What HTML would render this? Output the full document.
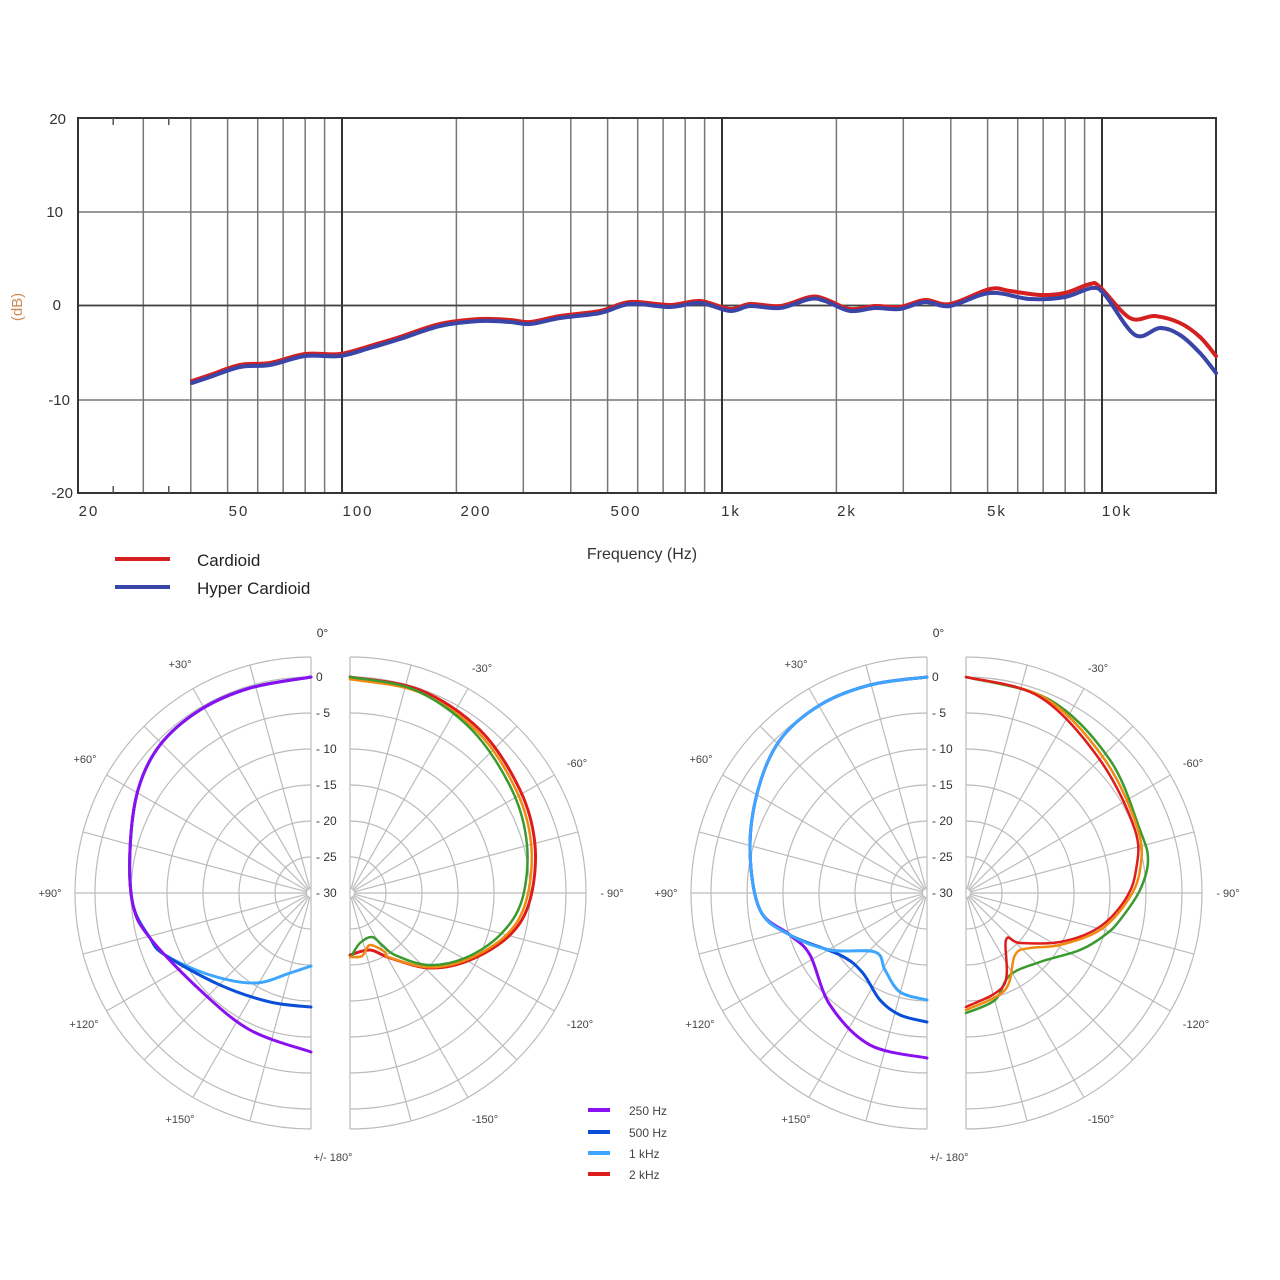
<!DOCTYPE html>
<html><head><meta charset="utf-8"><style>
html,body{margin:0;padding:0;background:#fff;}
svg{display:block;font-family:"Liberation Sans",sans-serif;}
</style></head><body>
<svg id="s" width="1280" height="1280" viewBox="0 0 1280 1280" xmlns="http://www.w3.org/2000/svg">
<rect width="1280" height="1280" fill="#fff"/>
<g id="fg"></g>
<g id="pg"></g>
<g id="cv"></g>
<g font-size="15" fill="#333" text-anchor="end">
<text x="66" y="124">20</text><text x="63" y="217">10</text><text x="61" y="310">0</text><text x="70" y="405">-10</text><text x="73" y="498">-20</text>
</g>
<g font-size="15" fill="#333" text-anchor="middle" letter-spacing="2">
<text x="89" y="516">20</text><text x="239" y="516">50</text><text x="358" y="516">100</text><text x="476" y="516">200</text><text x="626" y="516">500</text><text x="731" y="516">1k</text><text x="847" y="516">2k</text><text x="997" y="516">5k</text><text x="1117" y="516">10k</text>
</g>
<text x="642" y="559" font-size="16" fill="#333" text-anchor="middle">Frequency (Hz)</text>
<text transform="translate(22,307) rotate(-90)" font-size="15" fill="#c98a55" text-anchor="middle">(dB)</text>
<line x1="115" y1="559" x2="170" y2="559" stroke="#d42020" stroke-width="4"/>
<line x1="115" y1="587" x2="170" y2="587" stroke="#3a45a8" stroke-width="4"/>
<text x="197" y="566" font-size="17" fill="#222">Cardioid</text>
<text x="197" y="594" font-size="17" fill="#222">Hyper Cardioid</text>
<g font-size="12" fill="#444">
<rect x="588" y="1108" width="22" height="4" fill="#8b10f0"/><text x="629" y="1115">250 Hz</text>
<rect x="588" y="1130" width="22" height="4" fill="#0a4fd8"/><text x="629" y="1137">500 Hz</text>
<rect x="588" y="1151" width="22" height="4" fill="#3ea6ff"/><text x="629" y="1158">1 kHz</text>
<rect x="588" y="1172" width="22" height="4" fill="#dd1c1c"/><text x="629" y="1179">2 kHz</text>
</g>
</svg>
<script>
var NS="http://www.w3.org/2000/svg";
function el(p,t,a,txt){var e=document.createElementNS(NS,t);for(var k in a)e.setAttribute(k,a[k]);if(txt!=null)e.textContent=txt;document.getElementById(p).appendChild(e);return e;}
function fx(f){return 342+(Math.log10(f)-2)*380;}
var fs=[30,40,50,60,70,80,90,200,300,400,500,600,700,800,900,2000,3000,4000,5000,6000,7000,8000,9000];
fs.forEach(function(f){el('fg','line',{x1:fx(f),y1:118,x2:fx(f),y2:493,stroke:'#777','stroke-width':1.5});});
[212,305.5,400].forEach(function(y){el('fg','line',{x1:78,y1:y,x2:1216,y2:y,stroke:'#777','stroke-width':1.5});});
[100,1000,10000].forEach(function(f){el('fg','line',{x1:fx(f),y1:118,x2:fx(f),y2:493,stroke:'#333','stroke-width':2});});
el('fg','line',{x1:78,y1:305.5,x2:1216,y2:305.5,stroke:'#444','stroke-width':1.8});
el('fg','rect',{x:78,y:118,width:1138,height:375,fill:'none',stroke:'#333','stroke-width':2});
[25,35].forEach(function(f){el('fg','line',{x1:fx(f),y1:118,x2:fx(f),y2:125,stroke:'#555','stroke-width':1.5});el('fg','line',{x1:fx(f),y1:486,x2:fx(f),y2:493,stroke:'#555','stroke-width':1.5});});
function sp(pts){var d='M'+pts[0][0]+','+pts[0][1];for(var i=0;i<pts.length-1;i++){var p0=pts[i-1]||pts[i],p1=pts[i],p2=pts[i+1],p3=pts[i+2]||p2;
d+=' C'+(p1[0]+(p2[0]-p0[0])/6)+','+(p1[1]+(p2[1]-p0[1])/6)+' '+(p2[0]-(p3[0]-p1[0])/6)+','+(p2[1]-(p3[1]-p1[1])/6)+' '+p2[0]+','+p2[1];}return d;}
function curve(pts,c,w){el('cv','path',{d:sp(pts),fill:'none',stroke:c,'stroke-width':w||3,'stroke-linecap':'round','stroke-linejoin':'round'});}
var red=[[192,381],[210,375],[240,365],[270,363],[305,354],[340,354],[370,346],[400,337],[440,324],[480,319],[510,320],[530,322],[560,316],[600,311],[630,302],[670,305],[700,301],[730,309],[750,304],[780,306],[810,297],[825,299],[850,309],[875,306],[900,307],[925,300],[950,304],[990,289],[1010,291],[1040,295],[1065,293],[1090,284],[1100,287],[1130,318],[1155,316],[1180,323],[1200,337],[1216,356]];
var blue=red.map(function(p){return [p[0],p[1]+2];}).filter(function(p){return p[0]<960;});
blue=blue.concat([[990,293],[1030,299],[1065,297],[1092,288],[1105,295],[1135,335],[1160,328],[1180,335],[1200,353],[1216,373]]);
curve(red,'#d42020',4);curve(blue,'#3a45a8',4);
function polar(cxL,cxR,cy){
 var rs=[36,72,108,144,180,216,236];
 [[cxL,-1],[cxR,1]].forEach(function(h){var cx=h[0],s=h[1];
  rs.forEach(function(r){el('pg','path',{d:'M'+cx+','+(cy-r)+' A'+r+','+r+' 0 0 '+(s>0?1:0)+' '+cx+','+(cy+r),fill:'none',stroke:'#bbb','stroke-width':1.2});});
  el('pg','line',{x1:cx,y1:cy-236,x2:cx,y2:cy+236,stroke:'#bbb','stroke-width':1.2});
  for(var a=15;a<180;a+=15){var t=a*Math.PI/180;el('pg','line',{x1:cx+s*4*Math.sin(t),y1:cy-4*Math.cos(t),x2:cx+s*236*Math.sin(t),y2:cy-236*Math.cos(t),stroke:'#bbb','stroke-width':1.2});}
 });
 var mx=(cxL+cxR)/2;
 el('pg','text',{x:mx-8,y:cy-256,'font-size':12,fill:'#333','text-anchor':'middle'},'0°');
 var lb=['0','- 5','- 10','- 15','- 20','- 25','- 30'];
 lb.forEach(function(l,i){el('pg','text',{x:cxL+5,y:cy-216+i*36+4,'font-size':12,fill:'#333'},l);});
 var L=[['+30°',180,668],['+60°',85,763],['+90°',50,897],['+120°',84,1028],['+150°',180,1123],['+/- 180°',333,1161],['-30°',482,672],['-60°',577,767],['- 90°',612,897],['-120°',580,1028],['-150°',485,1123]];
 L.forEach(function(q){el('pg','text',{x:q[1]+(cxL-311),y:q[2],'font-size':11,fill:'#444','text-anchor':'middle'},q[0]);});
}
polar(311,350,893);polar(927,966,893);
var top1=[[311,677],[250,688],[200,710],[160,745],[138,790],[130,850],[133,905],[150,938]];
curve(top1.concat([[165,955],[210,975],[255,983],[290,973],[311,966]]),'#3ea6ff',3);
curve(top1.concat([[165,955],[220,985],[270,1002],[311,1007]]),'#0a4fd8',3);
curve(top1.concat([[200,990],[250,1030],[311,1052]]),'#8b10f0',3);
var rr=[[350,677],[420,690],[480,730],[520,790],[535,845],[530,900],[510,935],[470,960],[430,968],[390,958],[370,950],[350,955]];
curve(rr,'#dd1c1c',3);
curve(rr.map(function(p){return [350+(p[0]-350)*0.98,893+(p[1]-893)*0.99];}).slice(0,10).concat([[385,952],[370,945],[362,956],[350,957]]),'#f08a10',2.5);
curve([[350,677],[415,690],[472,730],[512,790],[527,845],[522,900],[500,935],[465,958],[428,965],[395,955],[382,945],[372,937],[360,943],[352,955]],'#3a9a30',2.5);
var top2=[[927,677],[870,685],[820,705],[780,740],[758,790],[750,850],[760,910],[790,935]];
curve(top2.concat([[810,955],[830,1005],[870,1045],[927,1058]]),'#8b10f0',3);
curve(top2.concat([[840,955],[862,972],[880,1000],[900,1015],[927,1022]]),'#0a4fd8',3);
curve(top2.concat([[830,950],[875,952],[885,970],[900,992],[927,1000]]),'#3ea6ff',3);
curve([[966,677],[1050,700],[1110,760],[1140,830],[1148,860],[1140,890],[1120,920],[1105,935],[1080,950],[1040,962],[1010,975],[995,1000],[966,1013]],'#3a9a30',2.5);
curve([[966,677],[1045,698],[1105,760],[1138,830],[1140,870],[1128,900],[1100,930],[1060,945],[1030,948],[1015,955],[1005,990],[966,1010]],'#f08a10',2.5);
curve([[966,677],[1040,697],[1100,760],[1135,830],[1136,870],[1125,900],[1098,928],[1060,942],[1020,943],[1006,940],[1004,985],[966,1007]],'#dd1c1c',2.5);
</script>
</body></html>
